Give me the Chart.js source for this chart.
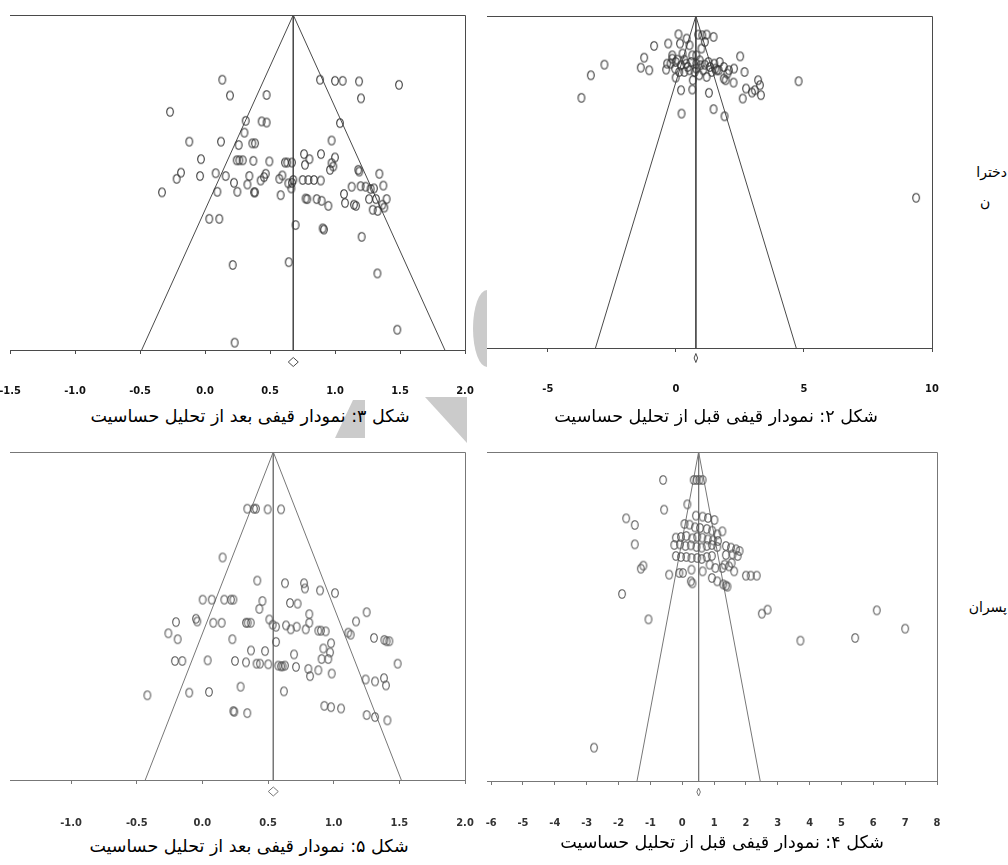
<!DOCTYPE html>
<html>
<head>
<meta charset="utf-8">
<script src="https://cdn.jsdelivr.net/npm/chart.js@4.4.1/dist/chart.umd.min.js"></script>
<style>
  body { margin: 0; background: #fff; width: 1008px; height: 865px; overflow: hidden; position: relative; }
  canvas { position: absolute; }
  .cap { position: absolute; font-family: 'DejaVu Sans', sans-serif; font-size: 17.5px; color: #000; white-space: nowrap; transform: translateX(-50%); direction: rtl; }
  .side { position: absolute; font-family: 'DejaVu Sans', sans-serif; font-size: 14px; color: #000; direction: rtl; white-space: nowrap; }
  .wm { position: absolute; background: #cbcbcb; }
</style>
</head>
<body>
<div class="wm" style="left:425px;top:397px;width:42px;height:46px;clip-path:polygon(0 0,100% 0,100% 100%);"></div>
<div class="wm" style="left:335px;top:400px;width:30px;height:38px;clip-path:polygon(0 100%,60% 0,100% 0,100% 100%);"></div>
<div class="wm" style="left:473px;top:290px;width:28px;height:77px;border-radius:50%;clip-path:inset(0 50% 0 0);"></div>

<canvas id="figA" width="482" height="400" style="left:0;top:0"></canvas>
<canvas id="figB" width="472" height="398" style="left:476px;top:0"></canvas>
<canvas id="figC" width="482" height="390" style="left:0;top:440px"></canvas>
<canvas id="figD" width="476" height="391" style="left:476px;top:440px"></canvas>

<div class="cap" style="left:250px;top:406px">شکل ۳: نمودار قیفی بعد از تحلیل حساسیت</div>
<div class="cap" style="left:716px;top:406px">شکل ۲: نمودار قیفی قبل از تحلیل حساسیت</div>
<div class="cap" style="left:249px;top:836px">شکل ۵: نمودار قیفی بعد از تحلیل حساسیت</div>
<div class="cap" style="left:722px;top:832px">شکل ۴: نمودار قیفی قبل از تحلیل حساسیت</div>

<div class="side" style="right:1px;top:164px">دخترا</div>
<div class="side" style="left:980px;top:194px">ن</div>
<div class="side" style="right:1px;top:599px">پسران</div>

<script>
// [effect size, standard error] per study
// Fig 3 (girls, after sensitivity analysis)
const studiesA = [
  [0.133,0.115],[0.885,0.115],[1.000,0.117],[1.059,0.117],[1.185,0.118],[1.492,0.124],
  [0.192,0.143],[0.474,0.142],[1.200,0.148],[-0.269,0.172],
  [0.313,0.188],[0.436,0.189],[0.474,0.191],[1.038,0.192],[0.303,0.209],
  [-0.121,0.225],[0.123,0.225],[0.259,0.231],[0.364,0.228],[0.385,0.228],[0.974,0.223],
  [-0.031,0.256],[0.244,0.258],[0.264,0.258],[0.290,0.258],[0.372,0.259],[0.495,0.260],
  [0.615,0.262],[0.633,0.262],[0.669,0.262],[0.762,0.247],[0.803,0.256],[0.892,0.247],
  [1.000,0.253],[0.769,0.266],[0.974,0.263],[0.962,0.275],[0.987,0.269],
  [-0.185,0.280],[-0.218,0.291],[-0.038,0.286],[0.082,0.281],[0.159,0.286],[0.223,0.298],
  [0.341,0.286],[0.428,0.294],[0.467,0.282],[0.454,0.288],[0.572,0.291],[0.595,0.285],
  [0.641,0.299],[0.669,0.298],[0.679,0.293],[0.751,0.293],[0.795,0.293],[0.838,0.293],
  [0.890,0.294],[1.179,0.275],[1.187,0.278],[1.341,0.282],
  [-0.331,0.315],[0.095,0.314],[0.249,0.314],[0.326,0.301],[0.377,0.315],[0.385,0.315],
  [0.582,0.320],[0.664,0.308],[1.069,0.318],[1.128,0.305],[1.197,0.304],[1.236,0.305],
  [1.274,0.309],[1.300,0.308],[1.372,0.303],[1.315,0.327],[1.262,0.327],[1.146,0.337],
  [1.162,0.339],[1.077,0.334],[1.364,0.337],[1.397,0.327],[1.290,0.346],[1.328,0.348],
  [1.379,0.342],[0.774,0.326],[0.787,0.327],[0.859,0.327],[0.897,0.330],[0.949,0.339],
  [0.033,0.362],[0.110,0.362],[0.697,0.373],[0.905,0.379],[0.915,0.381],[1.205,0.394],
  [0.213,0.444],[0.644,0.439],[1.326,0.459],[1.479,0.559],[0.228,0.582]
];
// Fig 2 (girls, before sensitivity analysis)
const studiesB = [
  [0.10,0.110],[0.42,0.136],[0.87,0.112],[1.03,0.116],[1.20,0.112],[1.47,0.126],[1.13,0.156],
  [-0.85,0.180],[-0.30,0.166],[0.16,0.166],[0.53,0.176],[1.00,0.196],
  [-1.24,0.251],[-0.14,0.237],[0.26,0.226],[0.64,0.237],[2.51,0.243],
  [-2.79,0.293],[-3.32,0.357],[-3.69,0.493],
  [-1.37,0.311],[-1.04,0.327],[-0.38,0.323],[-0.21,0.287],[-0.01,0.277],[0.20,0.297],
  [0.40,0.287],[0.60,0.277],[0.80,0.287],[0.96,0.297],[1.13,0.293],[1.33,0.307],
  [1.54,0.317],[1.71,0.277],[1.87,0.307],[2.07,0.327],[2.27,0.317],[2.68,0.337],
  [-0.01,0.371],[0.13,0.337],[0.53,0.327],[0.73,0.337],[0.91,0.357],[1.20,0.367],
  [1.60,0.327],[1.94,0.387],[2.25,0.401],[3.21,0.387],[3.28,0.417],[3.08,0.447],
  [2.74,0.437],[2.61,0.497],[2.97,0.461],[3.32,0.477],[4.79,0.393],
  [0.20,0.447],[0.64,0.443],[1.29,0.463],[0.22,0.588],[1.47,0.561],[1.90,0.604],
  [9.38,1.095],
  [-0.14,0.257],[0.06,0.263],[0.33,0.263],[0.46,0.307],[0.80,0.317],[1.07,0.327],
  [1.40,0.337],[1.67,0.327],[2.01,0.347],[1.87,0.377],[0.80,0.237],[0.93,0.267],
  [1.27,0.277],[1.50,0.287],[0.33,0.337],[0.66,0.387],[-0.03,0.317],[-0.34,0.287]
];
// Fig 5 (boys, after sensitivity analysis)
const studiesC = [
  [0.342,0.086],[0.393,0.086],[0.408,0.086],[0.497,0.087],[0.599,0.087],[0.154,0.160],
  [0.418,0.195],[0.629,0.199],[0.774,0.199],[0.781,0.207],[0.896,0.210],[1.010,0.214],
  [0.002,0.224],[0.071,0.224],[0.167,0.224],[0.218,0.224],[0.236,0.224],[0.457,0.226],
  [0.434,0.238],[0.667,0.229],[0.725,0.230],[0.814,0.246],[1.251,0.243],[1.170,0.257],
  [-0.049,0.253],[-0.039,0.257],[-0.201,0.258],[-0.259,0.275],[-0.188,0.284],
  [0.083,0.259],[0.147,0.259],[0.332,0.259],[0.345,0.259],[0.368,0.259],[0.510,0.254],
  [0.535,0.262],[0.561,0.265],[0.637,0.263],[0.673,0.269],[0.718,0.265],[0.787,0.269],
  [0.814,0.259],[0.883,0.271],[0.903,0.271],[0.939,0.272],[1.111,0.274],[1.129,0.277],
  [1.307,0.282],[1.386,0.285],[1.403,0.287],[1.424,0.287],
  [0.228,0.284],[0.561,0.288],[0.980,0.290],[0.370,0.301],[0.477,0.302],[0.698,0.307],
  [0.921,0.298],[0.972,0.304],[0.908,0.314],[0.959,0.314],
  [-0.209,0.317],[-0.153,0.317],[0.040,0.316],[0.248,0.317],[0.332,0.319],[0.413,0.321],
  [0.438,0.321],[0.502,0.322],[0.578,0.324],[0.599,0.325],[0.611,0.325],[0.629,0.324],
  [0.713,0.326],[0.807,0.329],[0.820,0.340],[0.883,0.331],[0.985,0.336],
  [1.487,0.321],[1.243,0.345],[1.315,0.348],[1.383,0.343],[1.398,0.354],
  [-0.419,0.369],[-0.100,0.365],[0.050,0.364],[0.291,0.356],[0.621,0.363],
  [0.236,0.393],[0.243,0.394],[0.342,0.396],[0.929,0.385],[0.980,0.387],[1.056,0.389],
  [1.251,0.399],[1.315,0.402],[1.409,0.407]
];
// Fig 4 (boys, before sensitivity analysis)
const studiesD = [
  [-0.60,0.084],[0.36,0.084],[0.45,0.084],[0.54,0.084],[0.64,0.084],
  [0.16,0.157],[-0.57,0.173],[-1.76,0.199],[-1.49,0.219],[-1.49,0.277],
  [0.43,0.191],[0.64,0.194],[0.81,0.198],[1.01,0.204],[1.26,0.238],
  [0.07,0.216],[0.23,0.218],[0.40,0.226],[0.56,0.228],[0.77,0.231],[0.94,0.236],[1.10,0.247],
  [-0.20,0.257],[-0.04,0.255],[0.13,0.252],[0.32,0.259],[0.47,0.255],[0.63,0.257],
  [0.80,0.262],[0.97,0.265],[1.12,0.267],
  [-0.25,0.279],[-0.07,0.277],[0.10,0.282],[0.27,0.280],[0.45,0.285],[0.61,0.287],
  [0.77,0.282],[0.93,0.279],[1.10,0.285],[1.37,0.282],[1.53,0.287],[1.69,0.292],[1.80,0.297],
  [-0.20,0.312],[-0.04,0.315],[0.13,0.315],[0.29,0.318],[0.47,0.318],[0.61,0.321],
  [0.77,0.315],[0.93,0.312],[1.37,0.309],[1.58,0.307],[1.74,0.312],
  [1.33,0.338],[1.47,0.343],[1.63,0.358],[1.26,0.348],[1.55,0.333],
  [-0.41,0.368],[-0.09,0.363],[0.02,0.363],[0.29,0.353],[0.64,0.358],[0.86,0.338],[1.04,0.348],
  [2.00,0.371],[2.15,0.371],[2.34,0.371],
  [0.27,0.388],[0.32,0.394],[0.93,0.378],[1.10,0.388],[1.29,0.397],[1.37,0.401],[1.42,0.404],
  [-1.89,0.426],[-1.06,0.502],[-1.30,0.350],[-1.22,0.341],
  [2.50,0.485],[2.68,0.473],[3.71,0.566],[5.43,0.558],[6.11,0.475],[7.00,0.530],
  [-2.77,0.887]
];

// pooled effect and largest standard error of each funnel
const pooled = { A: 0.679, B: 0.78, C: 0.540, D: 0.515 };
const seMax = { A: 0.595, B: 2.0, C: 0.4975, D: 0.987 };
const xRange = { A: [-1.5, 2.0], B: [-7.375, 10.0], C: [-1.465, 2.0], D: [-6.13, 8.0] };

// tick labels
const ticksA = [-1.5, -1.0, -0.5, 0.0, 0.5, 1.0, 1.5, 2.0];
const ticksB = [-5, 0, 5, 10];
const ticksC = [-1.0, -0.5, 0.0, 0.5, 1.0, 1.5, 2.0];
const ticksD = [-6, -5, -4, -3, -2, -1, 0, 1, 2, 3, 4, 5, 6, 7, 8];

function ovalMarker(color) {
    var c = document.createElement('canvas');
    c.width = 10; c.height = 12;
    var g = c.getContext('2d');
    g.strokeStyle = color;
    g.lineWidth = 1.1;
    g.beginPath();
    g.ellipse(5, 6, 3.3, 4.3, 0, 0, Math.PI * 2);
    g.stroke();
    return c;
}

// top + right frame, and the pooled-estimate diamond under the axis
const framePlugin = {
    id: 'frame',
    beforeDatasetsDraw: function(chart, args, o) {
        var ctx = chart.ctx, a = chart.chartArea;
        ctx.save();
        ctx.strokeStyle = o.color;
        ctx.lineWidth = 1;
        ctx.beginPath();
        ctx.moveTo(a.left, a.top + 0.5);
        ctx.lineTo(a.right + 0.5, a.top + 0.5);
        ctx.lineTo(a.right + 0.5, a.bottom);
        ctx.stroke();
        var x = chart.scales.x.getPixelForValue(o.center);
        var y = a.bottom + o.dOffset;
        ctx.beginPath();
        ctx.moveTo(x, y - o.dh / 2);
        ctx.lineTo(x + o.dw / 2, y);
        ctx.lineTo(x, y + o.dh / 2);
        ctx.lineTo(x - o.dw / 2, y);
        ctx.closePath();
        ctx.stroke();
        ctx.restore();
    }
};

function funnel(id, studies, key, ticks, fmt, s) {
    var c = pooled[key], m = seMax[key];
    new Chart(document.getElementById(id), {
        type: 'scatter',
        data: {
            datasets: [{
                data: studies.map(function(p) { return { x: p[0], y: p[1] }; }),
                pointStyle: ovalMarker(s.point),
                pointRadius: 4,
                order: 0
            }, {
                data: [{ x: c - 1.96 * m, y: m }, { x: c, y: 0 }, { x: c + 1.96 * m, y: m }],
                showLine: true, borderColor: s.line, borderWidth: 1, pointRadius: 0, order: 1
            }, {
                data: [{ x: c, y: 0 }, { x: c, y: m }],
                showLine: true, borderColor: s.line, borderWidth: 1, pointRadius: 0, order: 1
            }]
        },
        options: {
            responsive: false,
            animation: false,
            devicePixelRatio: 1,
            layout: { padding: s.pad },
            plugins: {
                legend: { display: false },
                tooltip: { enabled: false },
                frame: { color: s.line, center: c, dOffset: s.dOffset, dw: s.dw, dh: s.dh }
            },
            scales: {
                x: {
                    type: 'linear',
                    min: xRange[key][0],
                    max: xRange[key][1],
                    afterBuildTicks: function(sc) { sc.ticks = ticks.map(function(v) { return { value: v }; }); },
                    afterFit: function(sc) { sc.height = 50; sc.paddingLeft = 0; sc.paddingRight = 0; },
                    border: { display: true, color: s.line, width: 1 },
                    grid: { display: true, drawOnChartArea: false, drawTicks: true, tickLength: 4, color: s.line },
                    ticks: {
                        autoSkip: false,
                        maxRotation: 0,
                        padding: s.tickPad,
                        color: s.text,
                        font: { family: "'Liberation Sans Narrow', 'DejaVu Sans Condensed', sans-serif", size: 11, weight: 'bold' },
                        callback: fmt
                    }
                },
                y: { type: 'linear', reverse: true, min: 0, max: m, display: false }
            }
        },
        plugins: [framePlugin]
    });
}

var oneDecimal = function(v) { return v.toFixed(1); };
var integer = function(v) { return String(v); };

funnel('figA', studiesA, 'A', ticksA, oneDecimal,
    { point: '#333', line: '#4a4a4a', text: '#111', pad: { left: 10, right: 17, top: 15, bottom: 0 }, tickPad: 31, dOffset: 12, dw: 10, dh: 9 });
funnel('figB', studiesB, 'B', ticksB, integer,
    { point: '#333', line: '#4a4a4a', text: '#111', pad: { left: 11, right: 16, top: 16, bottom: 0 }, tickPad: 31, dOffset: 10, dw: 3.5, dh: 9 });
funnel('figC', studiesC, 'C', ticksC, oneDecimal,
    { point: '#555', line: '#777', text: '#333', pad: { left: 10, right: 17, top: 12, bottom: 0 }, tickPad: 33, dOffset: 11.5, dw: 10, dh: 9 });
funnel('figD', studiesD, 'D', ticksD, integer,
    { point: '#555', line: '#777', text: '#333', pad: { left: 11, right: 15, top: 12, bottom: 0 }, tickPad: 32, dOffset: 11, dw: 3.5, dh: 8 });
</script>
</body>
</html>
